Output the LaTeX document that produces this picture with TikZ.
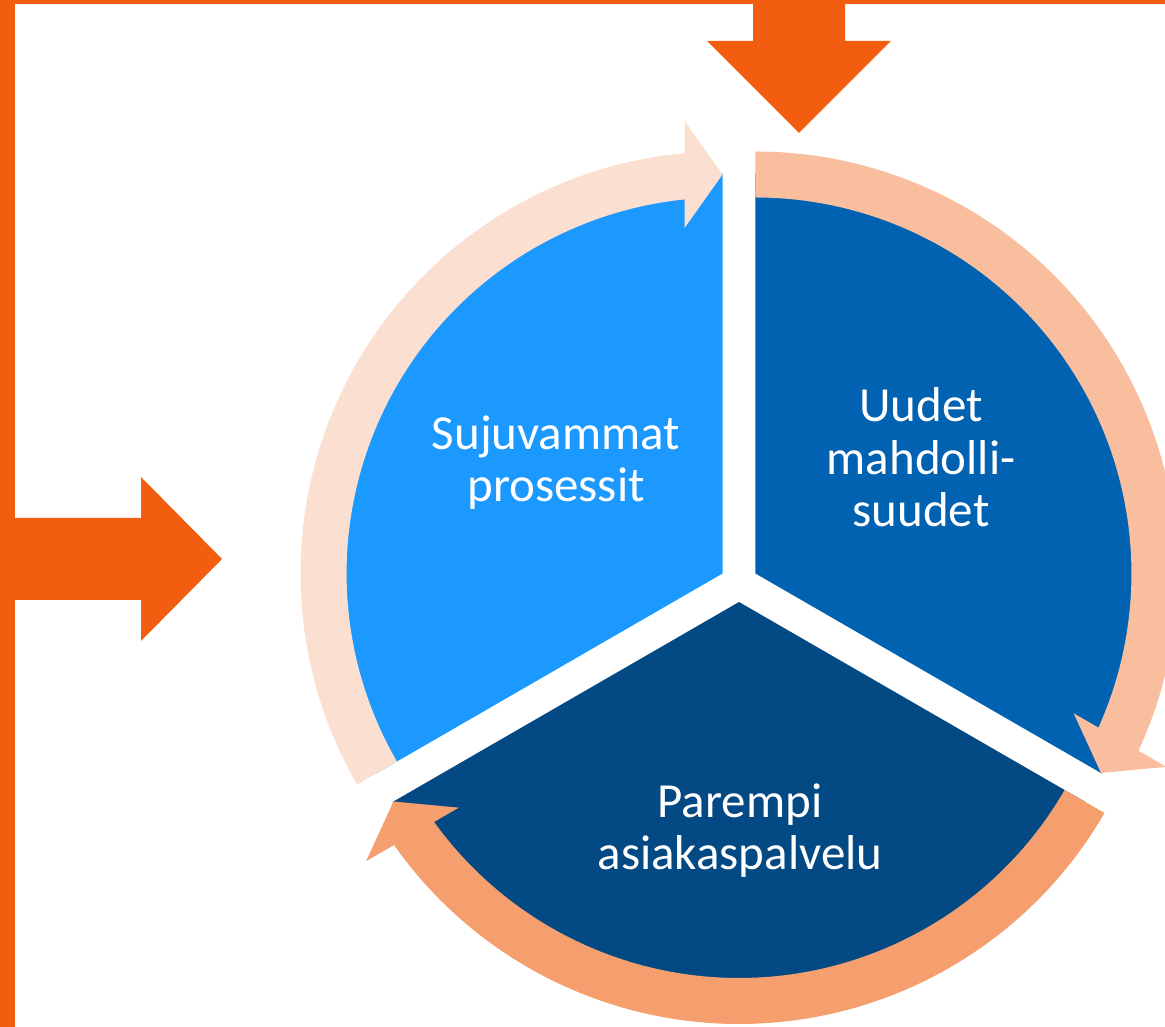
\documentclass[tikz,border=0pt]{standalone}
\usepackage{fontspec}
\setmainfont{Carlito}
\definecolor{secL}{HTML}{1B99FF}
\definecolor{secR}{HTML}{0062B0}
\definecolor{secB}{HTML}{034A85}
\definecolor{ringL}{HTML}{FBDFD0}
\definecolor{ringR}{HTML}{F9BE9E}
\definecolor{ringB}{HTML}{F59F6E}
\definecolor{orng}{HTML}{F25D0F}
\tikzset{
  ringarrow/.pic={
    \fill[pic actions] (120:422) arc[start angle=120,end angle=5.166,radius=422]
      -- (452.5,38) -- (399,0) -- (345.5,38) -- (5.80:376)
      arc[start angle=5.80,end angle=120,radius=376] -- cycle;
  },
  lbl/.style={text=white, font=\fontsize{49}{52.5}\selectfont, align=center, anchor=base, inner sep=0pt}
}
\begin{document}
\begin{tikzpicture}[x=1pt,y=1pt]
\useasboundingbox (0,0) rectangle (1165,1027);
\clip (0,0) rectangle (1165,1027);
\coordinate (AL) at (722.55,453.5);
\coordinate (AR) at (755.45,453.5);
\coordinate (AB) at (739,425);
% sectors
\fill[secL] (AL) -- ++(90:400) arc[start angle=90,end angle=210,radius=400] -- cycle;
\fill[secR] (AR) -- ++(-30:400) arc[start angle=-30,end angle=90,radius=400] -- cycle;
\fill[secB] (AB) -- ++(210:400) arc[start angle=210,end angle=330,radius=400] -- cycle;
% circular arrows
\pic[fill=ringL, rotate=90] at (AL) {ringarrow};
\pic[fill=ringR, rotate=-30] at (AR) {ringarrow};
\pic[fill=ringB, rotate=210] at (AB) {ringarrow};
% orange frame and arrows
\fill[orng] (0,0) rectangle (15,1027);
\fill[orng] (0,1023) rectangle (1165,1027);
\fill[orng] (753,1027) -- (753,986) -- (707,986) -- (799,894) -- (891,986) -- (845,986) -- (845,1027) -- cycle;
\fill[orng] (15,509) -- (141,509) -- (141,550) -- (222,468) -- (141,386) -- (141,427) -- (15,427) -- cycle;
% labels (base anchor = baseline of last line)
\node[lbl] (sj) at (556,525) {Sujuvammat\\prosessit};
\node[lbl] (ud) at (921,500) {Uudet\\mahdolli-\\suudet};
\node[lbl] (pa) at (740,157) {Parempi\\asiakaspalvelu};
\end{tikzpicture}
\end{document}
